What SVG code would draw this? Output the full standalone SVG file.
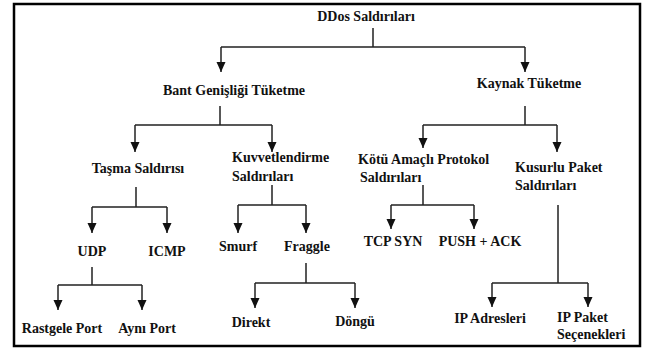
<svg xmlns="http://www.w3.org/2000/svg" width="660" height="349" viewBox="0 0 660 349">
<style>
text{font-family:'Liberation Serif','Times New Roman',Tinos,'DejaVu Serif',serif;font-weight:bold;font-size:14px;fill:#111}
.c{text-anchor:middle}
.ln{fill:none;stroke:#222;stroke-width:1.5}
</style>
<defs>
<marker id="ah" markerUnits="userSpaceOnUse" markerWidth="11" markerHeight="10" refX="10" refY="4.5" orient="auto">
<path d="M0,0 L10,4.5 L0,9 z" fill="#111"/>
</marker>
</defs>
<rect x="14" y="4" width="626" height="342" fill="#fff" stroke="#000" stroke-width="2.5"/>
<g id="connectors">
<path class="ln" d="M373,28 V47 M221,47 H525"/>
<path class="ln" d="M221,47 V72" marker-end="url(#ah)"/>
<path class="ln" d="M525,47 V72" marker-end="url(#ah)"/>
<path class="ln" d="M220,106 V125 M135,125 H272"/>
<path class="ln" d="M135,125 V152" marker-end="url(#ah)"/>
<path class="ln" d="M272,125 V152" marker-end="url(#ah)"/>
<path class="ln" d="M525,106 V125 M423,125 H557"/>
<path class="ln" d="M423,125 V148" marker-end="url(#ah)"/>
<path class="ln" d="M557,125 V152" marker-end="url(#ah)"/>
<path class="ln" d="M136,187 V207 M92,207 H167"/>
<path class="ln" d="M92,207 V233" marker-end="url(#ah)"/>
<path class="ln" d="M167,207 V233" marker-end="url(#ah)"/>
<path class="ln" d="M272,185 V205 M238,205 H306"/>
<path class="ln" d="M238,205 V233" marker-end="url(#ah)"/>
<path class="ln" d="M306,205 V233" marker-end="url(#ah)"/>
<path class="ln" d="M423,185 V205 M391,205 H474"/>
<path class="ln" d="M391,205 V229" marker-end="url(#ah)"/>
<path class="ln" d="M474,205 V229" marker-end="url(#ah)"/>
<path class="ln" d="M558,205 V283 M492,283 H588"/>
<path class="ln" d="M492,283 V307" marker-end="url(#ah)"/>
<path class="ln" d="M588,283 V307" marker-end="url(#ah)"/>
<path class="ln" d="M92,267 V285 M58,285 H142"/>
<path class="ln" d="M58,285 V310" marker-end="url(#ah)"/>
<path class="ln" d="M142,285 V310" marker-end="url(#ah)"/>
<path class="ln" d="M306,263 V283 M255,283 H355"/>
<path class="ln" d="M255,283 V308" marker-end="url(#ah)"/>
<path class="ln" d="M355,283 V308" marker-end="url(#ah)"/>
</g>
<g id="ddos"><text class="c" x="366" y="21">DDos Saldırıları</text></g>
<g id="bant"><text class="c" x="234" y="95">Bant Genişliği Tüketme</text></g>
<g id="kaynak"><text class="c" x="529" y="88">Kaynak Tüketme</text></g>
<g id="tasma"><text class="c" x="138" y="173">Taşma Saldırısı</text></g>
<g id="kuvvet"><text x="232" y="162">Kuvvetlendirme</text><text x="232" y="181">Saldırıları</text></g>
<g id="kotu"><text x="358" y="164">Kötü Amaçlı Protokol</text><text x="360" y="182">Saldırıları</text></g>
<g id="kusurlu"><text x="515" y="172">Kusurlu Paket</text><text x="515" y="190">Saldırıları</text></g>
<g id="udp"><text class="c" x="92" y="256">UDP</text></g>
<g id="icmp"><text class="c" x="167" y="256">ICMP</text></g>
<g id="smurf"><text class="c" x="238" y="251">Smurf</text></g>
<g id="fraggle"><text class="c" x="307" y="251">Fraggle</text></g>
<g id="tcpsyn"><text class="c" x="393" y="246">TCP SYN</text></g>
<g id="pushack"><text class="c" x="480" y="246">PUSH + ACK</text></g>
<g id="rastgele"><text class="c" x="62" y="333">Rastgele Port</text></g>
<g id="ayni"><text class="c" x="147" y="333">Aynı Port</text></g>
<g id="direkt"><text class="c" x="251" y="327">Direkt</text></g>
<g id="dongu"><text class="c" x="355" y="326">Döngü</text></g>
<g id="ipadres"><text class="c" x="490" y="323">IP Adresleri</text></g>
<g id="ippaket"><text x="557" y="322">IP Paket</text><text x="557" y="339">Seçenekleri</text></g>
</svg>
